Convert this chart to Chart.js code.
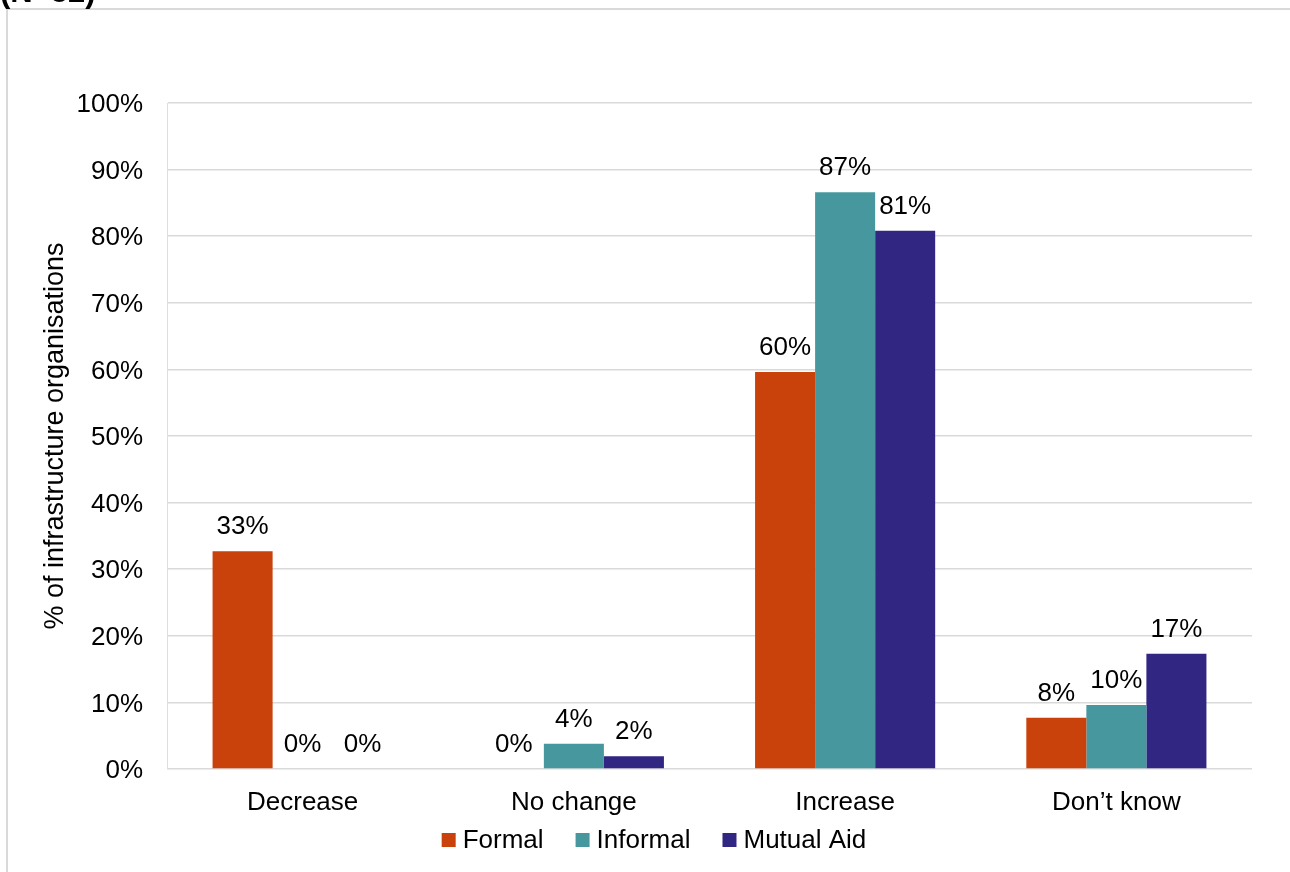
<!DOCTYPE html>
<html>
<head>
<meta charset="utf-8">
<script src="https://cdn.jsdelivr.net/npm/chart.js@4.4.1/dist/chart.umd.min.js"></script>
<style>
  html, body { margin: 0; padding: 0; background: #fff; width: 1290px; height: 872px; overflow: hidden; }
  #frame { position: absolute; left: 6px; top: 8px; width: 1400px; height: 1000px;
           border-left: 2px solid #d9d9d9; border-top: 2px solid #d9d9d9; box-sizing: border-box; }
  #chart { position: absolute; left: 0; top: 0; }
</style>
</head>
<body>
<div id="frame"></div>
<canvas id="chart" width="1290" height="872"></canvas>
<script>
// Survey responses by organisation type (% of organisations)
const categories = ['Decrease', 'No change', 'Increase', 'Don\u2019t know'];
const formal = [32.7, 0, 59.6, 7.7];
const informal = [0, 3.8, 86.6, 9.6];
const mutualAid = [0, 1.9, 80.8, 17.3];
const seriesNames = ['Formal', 'Informal', 'Mutual Aid'];
const seriesColors = ['#C9410B', '#46989E', '#312782'];
const yTickValues = [0, 10, 20, 30, 40, 50, 60, 70, 80, 90, 100];
const yAxisTitle = '% of infrastructure organisations';
const sampleNote = '(N=52)';

const FONT_FAMILY = '"Liberation Sans", Arial, sans-serif';
const FONT_SIZE = 26;

// Percentage labels above every bar, taken from the bar's own value
const valueLabels = {
  id: 'valueLabels',
  afterDatasetsDraw(chart) {
    const ctx = chart.ctx;
    ctx.save();
    ctx.font = FONT_SIZE + 'px ' + FONT_FAMILY;
    ctx.fillStyle = '#000';
    ctx.textAlign = 'center';
    ctx.textBaseline = 'alphabetic';
    chart.data.datasets.forEach((ds, i) => {
      chart.getDatasetMeta(i).data.forEach((bar, j) => {
        ctx.fillText(Math.round(ds.data[j]) + '%', bar.x, bar.y - 17);
      });
    });
    ctx.restore();
  }
};

// Compact legend row under the category labels
const bottomLegend = {
  id: 'bottomLegend',
  afterDraw(chart) {
    const ctx = chart.ctx;
    const box = 14, gap = 7, spacing = 32, centerX = 654, baseY = 848;
    ctx.save();
    ctx.font = FONT_SIZE + 'px ' + FONT_FAMILY;
    ctx.textBaseline = 'alphabetic';
    ctx.textAlign = 'left';
    const ds = chart.data.datasets;
    const widths = ds.map(d => ctx.measureText(d.label).width);
    const total = widths.reduce((s, w) => s + box + gap + w, 0) + spacing * (ds.length - 1);
    let x = centerX - total / 2;
    ds.forEach((d, i) => {
      ctx.fillStyle = d.backgroundColor;
      ctx.fillRect(x, baseY - 15, box, box);
      ctx.fillStyle = '#000';
      ctx.fillText(d.label, x + box + gap, baseY);
      x += box + gap + widths[i] + spacing;
    });
    ctx.restore();
  }
};

// Sample size note at the top-left corner
const cornerNote = {
  id: 'cornerNote',
  afterDraw(chart) {
    const ctx = chart.ctx;
    ctx.save();
    ctx.font = 'bold 31px ' + FONT_FAMILY;
    ctx.fillStyle = '#000';
    ctx.textAlign = 'left';
    ctx.textBaseline = 'alphabetic';
    ctx.fillText(sampleNote, 0, 2);
    ctx.restore();
  }
};

const seriesData = [formal, informal, mutualAid];

new Chart(document.getElementById('chart'), {
  type: 'bar',
  data: {
    labels: categories,
    datasets: seriesNames.map((name, i) => ({
      label: name,
      data: seriesData[i],
      backgroundColor: seriesColors[i],
      borderWidth: 0,
      categoryPercentage: 0.664,
      barPercentage: 1.0
    }))
  },
  options: {
    responsive: false,
    devicePixelRatio: 1,
    animation: false,
    layout: { padding: { left: 0, top: 103, right: 38, bottom: 0 } },
    plugins: {
      legend: { display: false },
      tooltip: { enabled: false }
    },
    scales: {
      x: {
        grid: { display: false },
        border: { display: false },
        ticks: {
          color: '#000',
          font: { family: FONT_FAMILY, size: FONT_SIZE },
          padding: 10
        },
        afterFit(scale) { scale.height = 103; }
      },
      y: {
        min: 0,
        max: 100,
        afterBuildTicks(scale) { scale.ticks = yTickValues.map(v => ({ value: v })); },
        ticks: {
          color: '#000',
          font: { family: FONT_FAMILY, size: FONT_SIZE },
          padding: 24,
          labelOffset: 2,
          callback: v => v + '%'
        },
        grid: { color: '#d9d9d9', lineWidth: 1.5, drawTicks: false },
        border: { display: true, color: '#e2ded6', width: 1 },
        title: {
          display: true,
          text: yAxisTitle,
          color: '#000',
          font: { family: FONT_FAMILY, size: 27 },
          padding: { top: 39, bottom: 0 }
        },
        afterFit(scale) { scale.width = 167; }
      }
    }
  },
  plugins: [valueLabels, bottomLegend, cornerNote]
});
</script>
</body>
</html>
